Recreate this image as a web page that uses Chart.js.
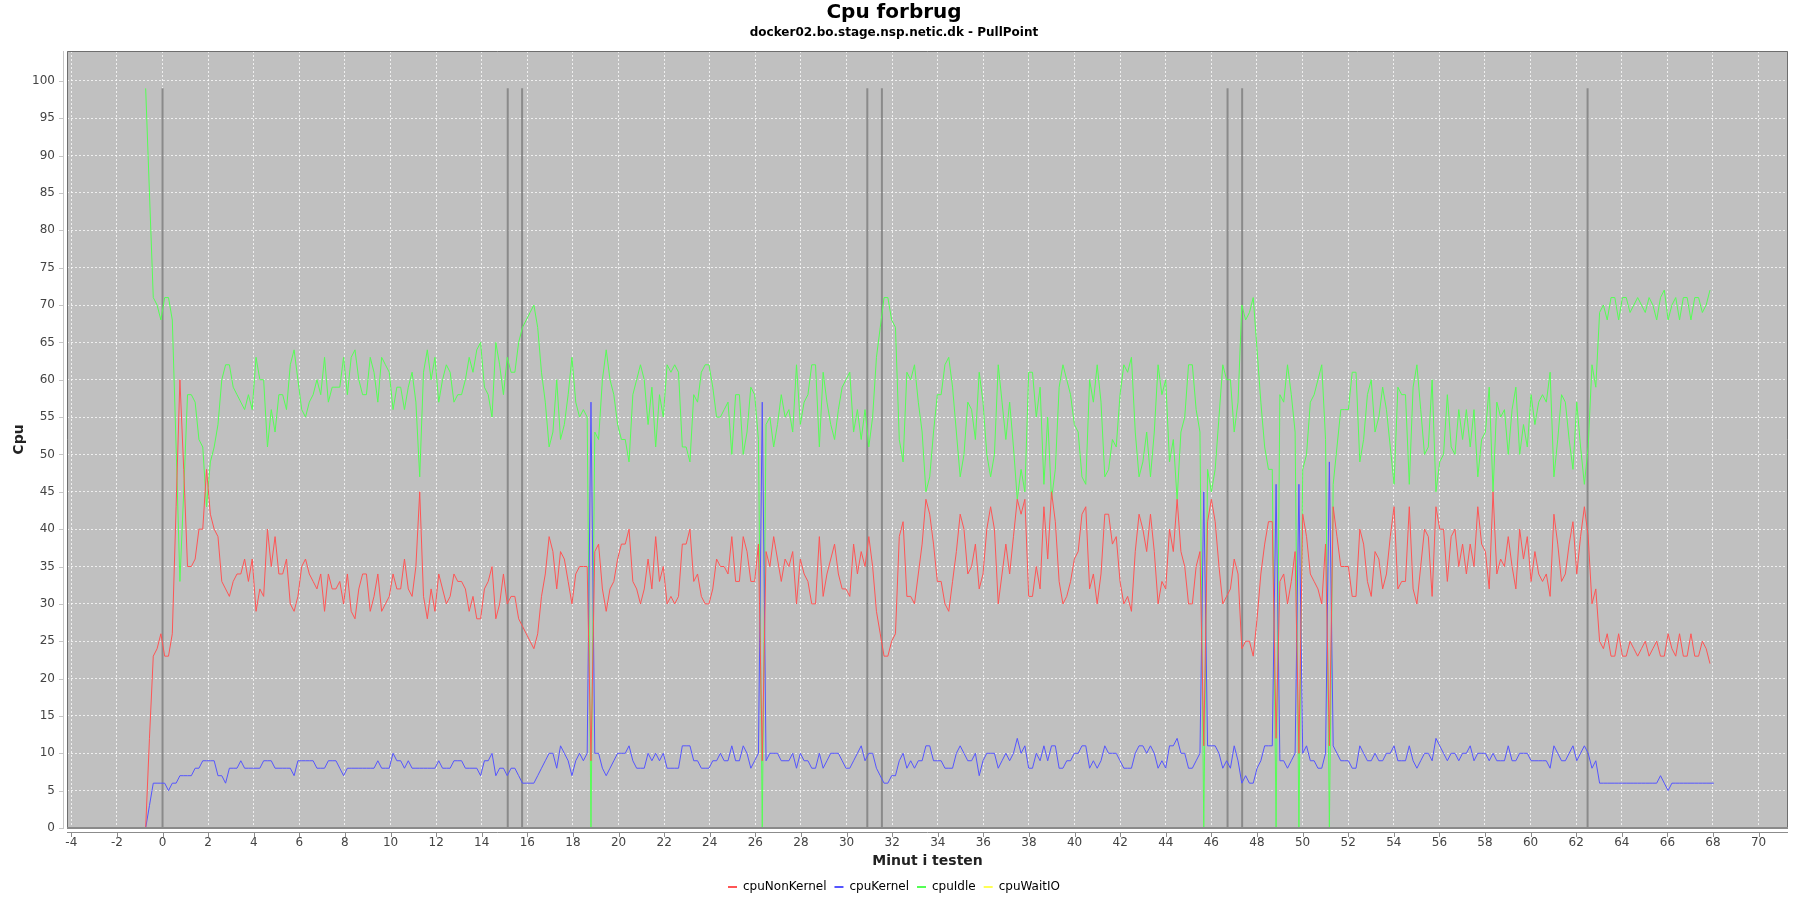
<!DOCTYPE html>
<html>
<head>
<meta charset="utf-8">
<title>Cpu forbrug</title>
<script src="https://cdn.jsdelivr.net/npm/chart.js@4.4.1/dist/chart.umd.min.js"></script>
<style>
  html, body { margin: 0; padding: 0; background: #ffffff; }
  canvas { display: block; }
</style>
</head>
<body>
<canvas id="cpuChart" width="1800" height="900" style="width:1800px;height:900px"></canvas>
<script>
// samples every ~10 s, first sample at -0.74 min
const startMinute = -0.74;
const stepMinutes = 0.16693;

const cpuNonKernel = [
  0, 12, 23, 24, 26, 23, 23, 26, 43, 60, 48, 35, 35, 36, 40, 40, 48, 42, 40, 39, 33, 32, 31, 33, 34, 34, 36, 33, 36, 29,
  32, 31, 40, 35, 39, 34, 34, 36, 30, 29, 31, 35, 36, 34, 33, 32, 34, 29, 34, 32, 32, 33, 30, 34, 29, 28, 32, 34, 34, 29,
  31, 34, 29, 30, 31, 34, 32, 32, 36, 32, 31, 35, 45, 31, 28, 32, 29, 34, 32, 30, 31, 34, 33, 33, 32, 29, 31, 28, 28, 32,
  33, 35, 28, 30, 34, 30, 31, 31, 28, 27, 26, 25, 24, 26, 31, 34, 39, 37, 32, 37, 36, 33, 30, 34, 35, 35, 35, 9, 37, 38,
  32, 29, 32, 33, 36, 38, 38, 40, 33, 32, 30, 32, 36, 32, 39, 33, 35, 30, 31, 30, 31, 38, 38, 40, 33, 34, 31, 30, 30, 32,
  36, 35, 35, 34, 39, 33, 33, 39, 37, 33, 33, 38, 9, 37, 35, 39, 36, 33, 36, 35, 37, 30, 36, 34, 33, 30, 30, 39, 31, 34,
  36, 38, 34, 32, 32, 31, 38, 34, 37, 35, 39, 35, 29, 26, 23, 23, 25, 26, 39, 41, 31, 31, 30, 34, 38, 44, 42, 38, 33, 33,
  30, 29, 33, 37, 42, 40, 34, 35, 38, 32, 34, 40, 43, 40, 30, 34, 38, 34, 39, 44, 42, 44, 31, 31, 35, 32, 43, 36, 45, 41,
  33, 30, 31, 33, 36, 37, 42, 43, 32, 34, 30, 34, 42, 42, 38, 39, 33, 30, 31, 29, 37, 42, 40, 37, 42, 37, 30, 33, 32, 40,
  37, 44, 37, 35, 30, 30, 35, 37, 11, 41, 44, 41, 35, 30, 31, 32, 36, 34, 24, 25, 25, 23, 28, 34, 38, 41, 41, 12, 33, 34,
  30, 33, 37, 10, 42, 39, 34, 33, 32, 30, 38, 11, 43, 39, 35, 35, 35, 31, 31, 40, 38, 33, 31, 37, 36, 32, 34, 39, 43, 32,
  33, 33, 43, 32, 30, 35, 40, 39, 31, 43, 40, 40, 33, 39, 40, 35, 38, 34, 38, 35, 43, 38, 37, 32, 45, 34, 36, 35, 39, 35,
  32, 40, 36, 39, 33, 37, 34, 33, 34, 31, 42, 38, 33, 34, 38, 41, 34, 39, 43, 39, 30, 32, 25, 24, 26, 23, 23, 26, 23, 23,
  25, 24, 23, 24, 25, 23, 24, 25, 23, 23, 26, 24, 23, 26, 23, 23, 26, 23, 23, 25, 24, 22
];

const cpuKernel = [
  0, 3, 6, 6, 6, 6, 5, 6, 6, 7, 7, 7, 7, 8, 8, 9, 9, 9, 9, 7, 7, 6, 8, 8, 8, 9, 8, 8, 8, 8,
  8, 9, 9, 9, 8, 8, 8, 8, 8, 7, 9, 9, 9, 9, 9, 8, 8, 8, 9, 9, 9, 8, 7, 8, 8, 8, 8, 8, 8, 8,
  8, 9, 8, 8, 8, 10, 9, 9, 8, 9, 8, 8, 8, 8, 8, 8, 8, 9, 8, 8, 8, 9, 9, 9, 8, 8, 8, 8, 7, 9,
  9, 10, 7, 8, 8, 7, 8, 8, 7, 6, 6, 6, 6, 7, 8, 9, 10, 10, 8, 11, 10, 9, 7, 9, 10, 9, 10, 57, 10, 10,
  8, 7, 8, 9, 10, 10, 10, 11, 9, 8, 8, 8, 10, 9, 10, 9, 10, 8, 8, 8, 8, 11, 11, 11, 9, 9, 8, 8, 8, 9,
  9, 10, 9, 9, 11, 9, 9, 11, 10, 8, 9, 10, 57, 9, 10, 10, 10, 9, 9, 9, 10, 8, 10, 9, 9, 8, 8, 10, 8, 9,
  10, 10, 10, 9, 8, 8, 9, 10, 11, 9, 10, 10, 8, 7, 6, 6, 7, 7, 9, 10, 8, 9, 8, 9, 9, 11, 11, 9, 9, 9,
  8, 8, 8, 10, 11, 10, 9, 9, 10, 7, 9, 10, 10, 10, 8, 9, 10, 9, 10, 12, 10, 11, 8, 8, 10, 9, 11, 9, 11, 11,
  8, 8, 9, 9, 10, 10, 11, 11, 8, 9, 8, 9, 11, 10, 10, 10, 9, 8, 8, 8, 10, 11, 11, 10, 11, 10, 8, 9, 8, 11,
  11, 12, 10, 10, 8, 8, 9, 10, 45, 11, 11, 11, 10, 8, 9, 8, 11, 9, 6, 7, 6, 6, 8, 9, 11, 11, 11, 46, 9, 9,
  8, 9, 10, 46, 10, 11, 9, 9, 8, 8, 10, 49, 11, 10, 9, 9, 9, 8, 8, 11, 10, 9, 9, 10, 9, 9, 10, 10, 11, 9,
  9, 9, 11, 9, 8, 9, 10, 10, 9, 12, 11, 10, 9, 10, 10, 9, 10, 10, 11, 9, 10, 10, 10, 9, 10, 9, 9, 9,
  11, 9, 9, 10, 10, 10, 9, 9, 9, 9, 9, 8, 11, 10, 9, 9, 10, 11, 9, 10, 11, 10, 8, 9, 6, 6, 6, 6, 6, 6,
  6, 6, 6, 6, 6, 6, 6, 6, 6, 6, 7, 6, 5, 6, 6, 6, 6, 6, 6, 6, 6, 6, 6, 6, 6
];

const cpuIdle = [
  99, 85, 71, 70, 68, 71, 71, 68, 51, 33, 45, 58, 58, 57, 52, 51, 43, 49, 51, 54, 60, 62, 62, 59, 58, 57, 56, 58, 56, 63,
  60, 60, 51, 56, 53, 58, 58, 56, 62, 64, 60, 56, 55, 57, 58, 60, 58, 63, 57, 59, 59, 59, 63, 58, 63, 64, 60, 58, 58, 63,
  61, 57, 63, 62, 61, 56, 59, 59, 56, 59, 61, 57, 47, 61, 64, 60, 63, 57, 60, 62, 61, 57, 58, 58, 60, 63, 61, 64, 65, 59,
  58, 55, 65, 62, 58, 63, 61, 61, 65, 67, 68, 69, 70, 67, 61, 57, 51, 53, 60, 52, 54, 58, 63, 57, 55, 56, 55, 0, 53, 52,
  60, 64, 60, 58, 54, 52, 52, 49, 58, 60, 62, 60, 54, 59, 51, 58, 55, 62, 61, 62, 61, 51, 51, 49, 58, 57, 61, 62, 62, 59,
  55, 55, 56, 57, 50, 58, 58, 50, 53, 59, 58, 52, 0, 54, 55, 51, 54, 58, 55, 56, 53, 62, 54, 57, 58, 62, 62, 51, 61, 57,
  54, 52, 56, 59, 60, 61, 53, 56, 52, 56, 51, 55, 63, 67, 71, 71, 68, 67, 52, 49, 61, 60, 62, 57, 53, 45, 47, 53, 58, 58,
  62, 63, 59, 53, 47, 50, 57, 56, 52, 61, 57, 50, 47, 50, 62, 57, 52, 57, 51, 44, 48, 45, 61, 61, 55, 59, 46, 55, 44, 48,
  59, 62, 60, 58, 54, 53, 47, 46, 60, 57, 62, 57, 47, 48, 52, 51, 58, 62, 61, 63, 53, 47, 49, 53, 47, 53, 62, 58, 60, 49,
  52, 44, 53, 55, 62, 62, 56, 53, 0, 48, 45, 48, 55, 62, 60, 60, 53, 57, 70, 68, 69, 71, 64, 57, 51, 48, 48, 0, 58, 57,
  62, 58, 53, 0, 48, 50, 57, 58, 60, 62, 52, 0, 46, 51, 56, 56, 56, 61, 61, 49, 52, 58, 60, 53, 55, 59, 56, 51, 46, 59,
  58, 58, 46, 59, 62, 56, 50, 51, 60, 45, 49, 50, 58, 51, 50, 56, 52, 56, 51, 56, 47, 52, 53, 59, 45, 57, 55, 56, 50, 56,
  59, 50, 54, 51, 58, 54, 57, 58, 57, 61, 47, 52, 58, 57, 52, 48, 57, 51, 46, 51, 62, 59, 69, 70, 68, 71, 71, 68, 71, 71,
  69, 70, 71, 70, 69, 71, 70, 68, 71, 72, 68, 70, 71, 68, 71, 71, 68, 71, 71, 69, 70, 72
];

const cpuWaitIO = [
  0, 0, 0, 0, 0, 0, 0, 0, 0, 0, 0, 0, 0, 0, 0, 0, 0, 0, 0, 0, 0, 0, 0, 0, 0, 0, 0, 0, 0, 0,
  0, 0, 0, 0, 0, 0, 0, 0, 0, 0, 0, 0, 0, 0, 0, 0, 0, 0, 0, 0, 0, 0, 0, 0, 0, 0, 0, 0, 0, 0,
  0, 0, 0, 0, 0, 0, 0, 0, 0, 0, 0, 0, 0, 0, 0, 0, 0, 0, 0, 0, 0, 0, 0, 0, 0, 0, 0, 0, 0, 0,
  0, 0, 0, 0, 0, 0, 0, 0, 0, 0, 0, 0, 0, 0, 0, 0, 0, 0, 0, 0, 0, 0, 0, 0, 0, 0, 0, 0, 0, 0,
  0, 0, 0, 0, 0, 0, 0, 0, 0, 0, 0, 0, 0, 0, 0, 0, 0, 0, 0, 0, 0, 0, 0, 0, 0, 0, 0, 0, 0, 0,
  0, 0, 0, 0, 0, 0, 0, 0, 0, 0, 0, 0, 0, 0, 0, 0, 0, 0, 0, 0, 0, 0, 0, 0, 0, 0, 0, 0, 0, 0,
  0, 0, 0, 0, 0, 0, 0, 0, 0, 0, 0, 0, 0, 0, 0, 0, 0, 0, 0, 0, 0, 0, 0, 0, 0, 0, 0, 0, 0, 0,
  0, 0, 0, 0, 0, 0, 0, 0, 0, 0, 0, 0, 0, 0, 0, 0, 0, 0, 0, 0, 0, 0, 0, 0, 0, 0, 0, 0, 0, 0,
  0, 0, 0, 0, 0, 0, 0, 0, 0, 0, 0, 0, 0, 0, 0, 0, 0, 0, 0, 0, 0, 0, 0, 0, 0, 0, 0, 0, 0, 0,
  0, 0, 0, 0, 0, 0, 0, 0, 0, 0, 0, 0, 0, 0, 0, 0, 0, 0, 0, 0, 0, 0, 0, 0, 0, 0, 0, 0, 0, 0,
  0, 0, 0, 0, 0, 0, 0, 0, 0, 0, 0, 0, 0, 0, 0, 0, 0, 0, 0, 0, 0, 0, 0, 0, 0, 0, 0, 0, 0, 0,
  0, 0, 0, 0, 0, 0, 0, 0, 0, 0, 0, 0, 0, 0, 0, 0, 0, 0, 0, 0, 0, 0, 0, 0, 0, 0, 0, 0, 0, 0,
  0, 0, 0, 0, 0, 0, 0, 0, 0, 0, 0, 0, 0, 0, 0, 0, 0, 0, 0, 0, 0, 0, 0, 0, 0, 0, 0, 0, 0, 0,
  0, 0, 0, 0, 0, 0, 0, 0, 0, 0, 0, 0, 0, 0, 0, 0, 0, 0, 0, 0, 0, 0
];

// phase markers (grey vertical lines)
const markerMinutes = [0, 15.14, 15.77, 30.91, 31.55, 46.71, 47.35, 62.5];
const markerTop = 99;

const xTickValues = [-4, -2, 0, 2, 4, 6, 8, 10, 12, 14, 16, 18, 20, 22, 24, 26, 28, 30, 32, 34, 36,
  38, 40, 42, 44, 46, 48, 50, 52, 54, 56, 58, 60, 62, 64, 66, 68, 70];
const yTickValues = [0, 5, 10, 15, 20, 25, 30, 35, 40, 45, 50, 55, 60, 65, 70, 75, 80, 85, 90, 95, 100];

const FONT = '"DejaVu Sans", Verdana, sans-serif';

function toPoints(values) {
  return values.map((v, i) => ({x: startMinute + i * stepMinutes, y: v}));
}

function markerPoints() {
  const pts = [];
  markerMinutes.forEach(m => {
    pts.push({x: m, y: 0});
    pts.push({x: m, y: markerTop});
    pts.push({x: m, y: null});
  });
  return pts;
}

// plot background, frame and the detached axis lines
const plotFrame = {
  id: 'plotFrame',
  beforeDraw(chart) {
    const {ctx, chartArea: a} = chart;
    ctx.save();
    ctx.fillStyle = '#c0c0c0';
    ctx.fillRect(a.left, a.top, a.right - a.left, a.bottom - a.top);
    ctx.restore();
  },
  afterDatasetsDraw(chart) {
    const {ctx, chartArea: a, scales} = chart;
    ctx.save();
    ctx.lineWidth = 1;
    ctx.strokeStyle = '#6e6e6e';
    ctx.beginPath();
    ctx.moveTo(a.left + 0.5, a.bottom);
    ctx.lineTo(a.left + 0.5, a.top + 0.5);
    ctx.lineTo(a.right - 0.5, a.top + 0.5);
    ctx.lineTo(a.right - 0.5, a.bottom);
    ctx.stroke();
    // bottom edge also hides the flat cpuWaitIO line at 0
    ctx.lineWidth = 2;
    ctx.strokeStyle = '#8a8a8a';
    ctx.beginPath();
    ctx.moveTo(a.left, a.bottom);
    ctx.lineTo(a.right, a.bottom);
    ctx.stroke();

    ctx.lineWidth = 1;
    ctx.strokeStyle = '#c6c6c6';
    ctx.beginPath();
    ctx.moveTo(a.left - 3.5, a.top);
    ctx.lineTo(a.left - 3.5, a.bottom + 1);
    yTickValues.forEach(v => {
      const y = Math.round(scales.y.getPixelForValue(v)) + 0.5;
      ctx.moveTo(a.left - 8, y);
      ctx.lineTo(a.left - 3.5, y);
    });
    ctx.stroke();

    ctx.strokeStyle = '#8c8c8c';
    ctx.beginPath();
    ctx.moveTo(a.left, a.bottom + 4.5);
    ctx.lineTo(a.right, a.bottom + 4.5);
    xTickValues.forEach(v => {
      const x = Math.round(scales.x.getPixelForValue(v)) + 0.5;
      ctx.moveTo(x, a.bottom + 4.5);
      ctx.lineTo(x, a.bottom + 9);
    });
    ctx.stroke();
    ctx.restore();
  }
};

const ctx = document.getElementById('cpuChart').getContext('2d');
const chart = new Chart(ctx, {
  type: 'line',
  data: {
    datasets: [
      {label: 'cpuNonKernel', data: toPoints(cpuNonKernel), borderColor: '#ff5555', backgroundColor: '#ff5555'},
      {label: 'cpuKernel', data: toPoints(cpuKernel), borderColor: '#5555ff', backgroundColor: '#5555ff'},
      {label: 'cpuIdle', data: toPoints(cpuIdle), borderColor: '#55ff55', backgroundColor: '#55ff55'},
      {label: 'cpuWaitIO', data: toPoints(cpuWaitIO), borderColor: '#ffff55', backgroundColor: '#ffff55', clip: 0},
      {label: 'markers', data: markerPoints(), borderColor: '#8a8a8a', borderWidth: 2, spanGaps: false, order: 10}
    ]
  },
  plugins: [plotFrame],
  options: {
    responsive: false,
    devicePixelRatio: 1,
    animation: false,
    events: [],
    elements: {
      line: {borderWidth: 1, tension: 0, fill: false},
      point: {radius: 0, hoverRadius: 0}
    },
    layout: {padding: {left: 0, right: 12, top: 0, bottom: -3}},
    plugins: {
      title: {
        display: true,
        text: 'Cpu forbrug',
        color: '#000',
        font: {family: FONT, size: 20, weight: 'bold'},
        padding: {top: 1, bottom: 0}
      },
      subtitle: {
        display: true,
        text: 'docker02.bo.stage.nsp.netic.dk - PullPoint',
        color: '#000',
        font: {family: FONT, size: 12, weight: 'bold'},
        padding: {top: 1, bottom: 10.6}
      },
      legend: {
        position: 'bottom',
        labels: {
          usePointStyle: true,
          pointStyle: 'line',
          pointStyleWidth: 9,
          padding: 8,
          color: '#000',
          font: {family: FONT, size: 12},
          filter: item => item.datasetIndex < 4,
          generateLabels: c => Chart.defaults.plugins.legend.labels.generateLabels(c)
            .map(item => Object.assign(item, {lineWidth: 2}))
        }
      },
      tooltip: {enabled: false}
    },
    scales: {
      x: {
        type: 'linear',
        min: -4.19,
        max: 71.29,
        afterBuildTicks: s => { s.ticks = xTickValues.map(v => ({value: v})); },
        afterFit: s => { s.height = 45; },
        ticks: {
          autoSkip: false,
          maxRotation: 0,
          padding: 8,
          color: '#444',
          font: {family: FONT, size: 12}
        },
        grid: {color: 'rgba(255,255,255,0.75)', lineWidth: 1, drawTicks: false},
        border: {display: false, dash: [2, 2]},
        title: {
          display: true,
          text: 'Minut i testen',
          color: '#222',
          font: {family: FONT, size: 14, weight: 'bold'},
          padding: {top: 0, bottom: 3.6}
        }
      },
      y: {
        type: 'linear',
        min: 0,
        max: 104,
        afterBuildTicks: s => { s.ticks = yTickValues.map(v => ({value: v})); },
        afterFit: s => { s.width = 67; },
        ticks: {
          padding: 12,
          color: '#444',
          font: {family: FONT, size: 12}
        },
        grid: {color: 'rgba(255,255,255,0.75)', lineWidth: 1, drawTicks: false},
        border: {display: false, dash: [2, 2]},
        title: {
          display: true,
          text: 'Cpu',
          color: '#222',
          font: {family: FONT, size: 14, weight: 'bold'},
          padding: {top: 11, bottom: 0}
        }
      }
    }
  }
});
</script>
</body>
</html>
